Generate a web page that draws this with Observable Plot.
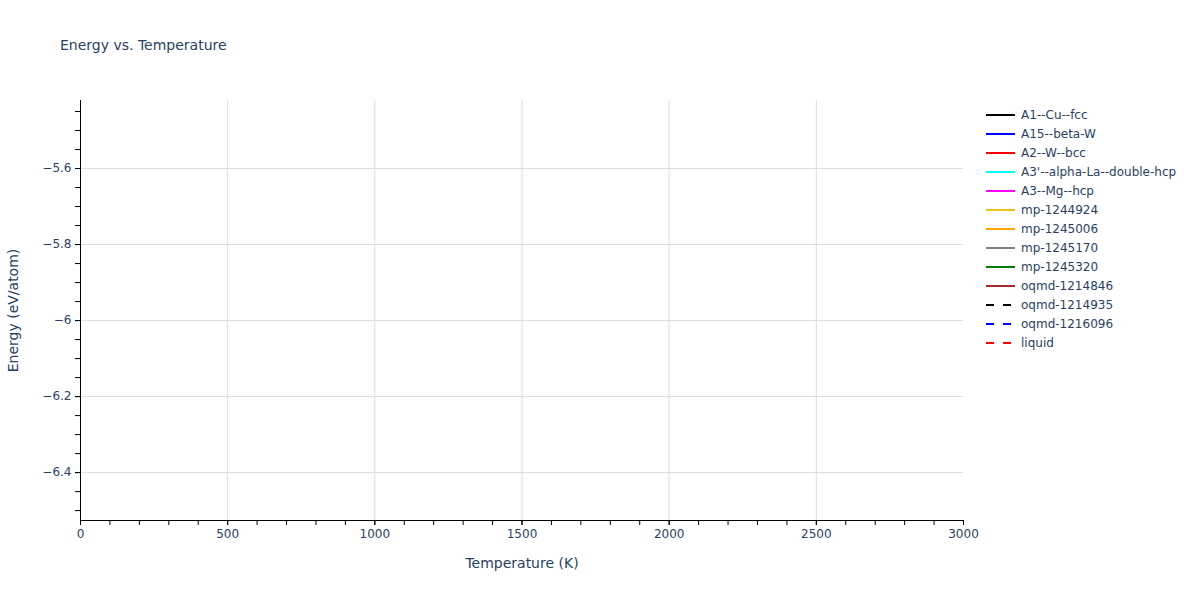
<!DOCTYPE html>
<html>
<head>
<meta charset="utf-8">
<script src="https://cdn.jsdelivr.net/npm/d3@7"></script>
<script src="https://cdn.jsdelivr.net/npm/@observablehq/plot@0.6"></script>
<style>
  html, body { margin: 0; padding: 0; background: #fff; }
  #wrap { position: relative; width: 1200px; height: 600px; font-family: "DejaVu Sans", sans-serif; }
  #title { position: absolute; left: 60px; top: 37px; font-size: 14px; color: #2a3f5f; }
  #legend { position: absolute; left: 985px; top: 105px; font-size: 12px; color: #2a3f5f; }
  .row { height: 19px; display: flex; align-items: center; }
  .row svg { margin-right: 6px; }
</style>
</head>
<body>
<div id="wrap">
  <div id="chart"></div>
  <div id="title">Energy vs. Temperature</div>
  <div id="legend"></div>
</div>
<script>
// Series (no data points are visible in the reference within the shown range)
const seriesNames = ["A1--Cu--fcc","A15--beta-W","A2--W--bcc","A3'--alpha-La--double-hcp","A3--Mg--hcp","mp-1244924","mp-1245006","mp-1245170","mp-1245320","oqmd-1214846","oqmd-1214935","oqmd-1216096","liquid"];
const seriesColors = ["black","blue","red","cyan","magenta","#f0c020","orange","gray","green","brown","black","blue","red"];
const seriesDashed = [false,false,false,false,false,false,false,false,false,false,true,true,true];
const seriesTemps = seriesNames.map(() => []);
const seriesEnergies = seriesNames.map(() => []);

const xDomain = [0, 3000];
const yDomain = [-6.526, -5.421];
const xMajor = [0, 500, 1000, 1500, 2000, 2500, 3000];
const xMinor = d3.range(0, 3001, 100);
const yMajor = [-6.4, -6.2, -6, -5.8, -5.6];
const yMinor = d3.range(-6.5, -5.42, 0.05).map(v => +v.toFixed(2));

const rows = [];
seriesNames.forEach((name, i) => {
  seriesTemps[i].forEach((t, j) => rows.push({series: name, T: t, E: seriesEnergies[i][j]}));
});

const fmt = d3.format("~g");
const lineMarks = seriesNames.map((name, i) =>
  Plot.line(rows.filter(r => r.series === name), {
    x: "T", y: "E", stroke: seriesColors[i], strokeWidth: 2,
    strokeDasharray: seriesDashed[i] ? "6,6" : null
  })
);

const chart = Plot.plot({
  width: 1200,
  height: 600,
  marginLeft: 80,
  marginRight: 237,
  marginTop: 100,
  marginBottom: 80,
  style: { fontFamily: "'DejaVu Sans', sans-serif", fontSize: "12px", color: "#2a3f5f", background: "white" },
  x: { domain: xDomain },
  y: { domain: yDomain },
  marks: [
    Plot.gridX(xMajor.filter(v => v > 0 && v < 3000), { stroke: "#dddddd", strokeOpacity: 1, strokeWidth: 1 }),
    Plot.gridY(yMajor, { stroke: "#dddddd", strokeOpacity: 1, strokeWidth: 1 }),
    ...lineMarks,
    Plot.axisX(xMinor, { tickSize: 5, tickFormat: () => "", stroke: "#000", label: null }),
    Plot.axisX(xMajor, { tickSize: 5, tickPadding: 4, tickFormat: fmt, stroke: "#000", fill: "#2a3f5f", fontSize: 12,
      label: "Temperature (K)", labelAnchor: "center", labelArrow: "none", labelOffset: 47 }),
    Plot.axisY(yMinor, { tickSize: 5, tickFormat: () => "", stroke: "#000", label: null }),
    Plot.axisY(yMajor, { tickSize: 5, tickPadding: 4, tickFormat: fmt, stroke: "#000", fill: "#2a3f5f", fontSize: 12,
      label: "Energy (eV/atom)", labelAnchor: "center", labelArrow: "none", labelOffset: 72 }),
    Plot.ruleX([xDomain[0]], { stroke: "#000", strokeWidth: 1 }),
    Plot.ruleY([yDomain[0]], { stroke: "#000", strokeWidth: 1 })
  ]
});
chart.querySelectorAll("g[aria-label='x-axis label'] text, g[aria-label='y-axis label'] text").forEach(t => {
  t.setAttribute("font-size", "14");
});
document.getElementById("chart").appendChild(chart);

const legend = document.getElementById("legend");
seriesNames.forEach((name, i) => {
  const row = document.createElement("div");
  row.className = "row";
  row.innerHTML = `<svg width="30" height="6"><line x1="1" x2="30" y1="3" y2="3" stroke="${seriesColors[i]}" stroke-width="2" ${seriesDashed[i] ? 'stroke-dasharray="8,9"' : ''}/></svg><span>${name}</span>`;
  legend.appendChild(row);
});
</script>
</body>
</html>
